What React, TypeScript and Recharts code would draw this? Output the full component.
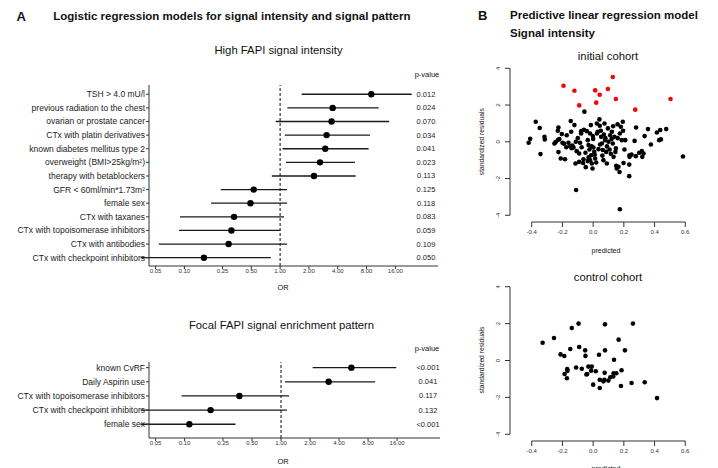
import React from 'react';
import { ScatterChart, Scatter, XAxis, YAxis, ErrorBar, ReferenceLine } from 'recharts';

const FONT = '"Liberation Sans", Arial, Helvetica, sans-serif';

// ---------- A: High FAPI signal intensity ----------
const highLabels = [
  'TSH > 4.0 mU/l',
  'previous radiation to the chest',
  'ovarian or prostate cancer',
  'CTx with platin derivatives',
  'known diabetes mellitus type 2',
  'overweight (BMI>25kg/m²)',
  'therapy with betablockers',
  'GFR < 60ml/min*1.73m²',
  'female sex',
  'CTx with taxanes',
  'CTx with topoisomerase inhibitors',
  'CTx with antibodies',
  'CTx with checkpoint inhibitors',
];
const highOR = [8.96, 3.54, 3.45, 3.06, 2.96, 2.61, 2.26, 0.53, 0.49, 0.33, 0.31, 0.29, 0.16];
const highLow = [1.68, 1.19, 0.9, 1.12, 1.06, 1.15, 0.82, 0.24, 0.19, 0.09, 0.088, 0.054, 0.035];
const highHigh = [23.7, 10.7, 13.8, 8.7, 8.4, 6.05, 6.15, 1.18, 1.18, 1.1, 1.0, 1.18, 0.8];
const highP = ['0.012', '0.024', '0.070', '0.034', '0.041', '0.023', '0.113', '0.125', '0.118', '0.083', '0.059', '0.109', '0.050'];

// ---------- A: Focal FAPI signal enrichment pattern ----------
const focalLabels = [
  'known CvRF',
  'Daily Aspirin use',
  'CTx with topoisomerase inhibitors',
  'CTx with checkpoint inhibitors',
  'female sex',
];
const focalOR = [5.37, 3.12, 0.37, 0.186, 0.112];
const focalLow = [2.13, 1.1, 0.093, 0.035, 0.035];
const focalHigh = [15.7, 9.47, 1.21, 1.15, 0.337];
const focalP = ['<0.001', '0.041', '0.117', '0.132', '<0.001'];

const orTicks = [0.05, 0.1, 0.25, 0.5, 1, 2, 4, 8, 16];
const orDomain = [0.0427, 44.6];

// ---------- B: initial cohort ----------
const initX = [
  -0.42, -0.41, -0.374, -0.348, -0.343, -0.317, -0.315, -0.252, -0.245, -0.226, -0.23, -0.226, -0.211, -0.183, -0.204,
  -0.22, -0.146, -0.122, -0.172, -0.143, -0.161, -0.15, -0.128, -0.113, -0.107, -0.091, -0.085, -0.115, -0.091, -0.078,
  -0.078, -0.063, -0.048, -0.041, -0.035, -0.03, -0.024, -0.02, -0.013, -0.009, -0.004, -0.015, -0.002, 0.002, 0.007,
  0.013, 0.02, 0.024, 0.03, 0.041, 0.043, 0.052, 0.057, 0.063, 0.067, 0.074, 0.078, 0.085, 0.089, 0.096,
  0.1, 0.107, 0.111, 0.122, 0.128, 0.133, 0.139, 0.148, 0.154, 0.159, 0.165, 0.172, 0.174, 0.18, 0.187,
  0.193, 0.198, 0.204, 0.209, 0.235, 0.237, 0.237, 0.27, 0.278, 0.28, 0.317, 0.32, 0.328, 0.335, 0.357,
  0.376, 0.415, 0.43, 0.437, 0.441, 0.476, 0.585, -0.111, 0.174, 0.235, -0.057, -0.19, -0.175, -0.135, -0.1,
  -0.06, -0.05, -0.035, -0.03, -0.01, 0.0, 0.01, 0.035, 0.045, 0.05, 0.06, 0.07, 0.09, 0.115, 0.12,
  0.13, 0.145, 0.16, 0.195, -0.075, -0.065, -0.14, 0.025, -0.02, 0.08, -0.23, -0.2, 0.25, 0.15, 0.3,
];
const initY = [
  -0.05, 0.16, 1.09, 0.75, -0.67, 0.27, 0.13, -0.09, -0.02, -0.56, 0.6, 0.78, -0.91, -0.95, 0.42,
  0.15, 1.13, 0.91, 0.36, 0.55, -0.05, -0.24, -0.31, 0.0, -0.51, -0.64, -0.05, -1.18, -1.09, 0.58,
  0.45, -0.95, -1.38, 0.58, 0.09, -0.18, -0.42, -1.0, -0.73, -1.18, -1.45, 0.91, 0.31, -0.31, -0.55,
  -0.91, -1.13, 1.0, 0.55, 1.22, 0.87, 0.27, -0.09, -0.45, -1.0, 1.0, 0.09, -0.55, -1.18, 0.73,
  0.0, -0.42, 0.36, 0.55, -0.09, -0.82, 0.27, -0.36, -1.45, 0.95, -1.36, -1.64, 0.45, 0.82, 0.09,
  1.09, -1.15, -0.42, 0.09, -1.24, -0.73, -0.82, 0.05, -0.78, 0.78, -0.51, -0.82, -0.64, 0.31, 0.69,
  -0.15, 0.51, 0.09, 0.64, 0.13, 0.69, -0.8, -2.62, -3.67, -1.87, 1.64, -0.1, -0.3, -0.2, 0.2,
  0.65, -0.6, -1.05, -0.85, -0.25, 0.15, -0.7, -0.4, -0.15, 0.6, -0.75, 0.4, -0.25, -0.65, 0.15,
  0.85, -0.55, 0.2, 0.6, -0.3, -1.15, -0.35, 0.45, 0.45, 0.2, 0.1, -0.05, -0.7, -1.3, -0.6,
];
const initRedX = [-0.193, -0.122, -0.091, 0.013, 0.043, 0.02, 0.096, 0.128, 0.148, 0.274, 0.504];
const initRedY = [3.05, 2.78, 1.98, 2.8, 2.56, 2.13, 2.87, 3.53, 2.33, 1.75, 2.33];

// ---------- B: control cohort ----------
const ctrlX = [
  -0.329, -0.255, -0.139, -0.095, 0.077, 0.259, 0.166, -0.212, -0.188, -0.149, -0.091, -0.052, -0.05, 0.038, 0.077,
  0.207, 0.136, -0.186, -0.169, -0.171, -0.167, -0.111, -0.074, -0.031, -0.009, -0.044, -0.039, -0.013, 0.017, 0.0,
  0.043, 0.043, 0.067, 0.073, 0.075, 0.099, 0.112, 0.131, 0.133, 0.151, 0.185, 0.181, 0.25, 0.336, 0.416,
];
const ctrlY = [
  0.96, 1.22, 1.76, 2.0, 1.96, 2.0, 1.13, 0.33, 0.24, 0.62, 0.73, 0.55, 0.25, 0.31, 0.55,
  0.55, 0.04, -0.73, -0.47, -0.96, -0.56, -0.38, -0.45, -0.33, -0.33, -0.76, -0.73, -0.55, -0.58, -1.31,
  -1.04, -1.49, -1.13, -1.04, -0.67, -1.09, -0.91, -0.87, -0.69, -0.69, -0.53, -1.38, -1.22, -1.18, -2.04,
];

const predTicks = [-0.4, -0.2, 0, 0.2, 0.4, 0.6];
const residTicks = [-4, -2, 0, 2, 4];
const predDomain = [-0.5415, 0.7415];
const residDomain = [-4.365, 4.365];

type ForestProps = {
  labels: string[];
  or: number[];
  lo: number[];
  hi: number[];
  p: string[];
  top: number;
  width: number;
  height: number;
  marginTop: number;
  yDomain: number[];
};

function Forest({ labels, or, lo, hi, p, top, width, height, marginTop, yDomain }: ForestProps) {
  const rows = labels.map((l, i) => ({ y: i, or: or[i], err: [or[i] - lo[i], hi[i] - or[i]] }));
  const idx = rows.map((r) => r.y);
  return (
    <div style={{ position: 'absolute', left: 0, top }}>
      <ScatterChart width={width} height={height} margin={{ top: marginTop, right: 2, bottom: 0, left: 0 }}>
        <XAxis
          type="number"
          dataKey="or"
          scale="log"
          domain={orDomain}
          allowDataOverflow
          ticks={orTicks}
          interval={0}
          tickFormatter={(v: number) => v.toFixed(2)}
          tick={{ fontSize: 6, fill: '#333', fontFamily: FONT }}
          tickSize={3}
          tickMargin={0}
          stroke="#333"
          height={30}
        />
        <YAxis
          yAxisId="l"
          type="number"
          dataKey="y"
          domain={yDomain}
          allowDataOverflow
          reversed
          ticks={idx}
          interval={0}
          tickSize={3}
          tickMargin={1}
          stroke="#333"
          width={149}
          tick={(props: any) => (
            <text
              x={props.x}
              y={props.y}
              textAnchor="end"
              dominantBaseline="central"
              fontSize={8.5}
              fill="#222"
              fontFamily={FONT}
            >
              {labels[props.payload.value]}
            </text>
          )}
        />
        <YAxis
          yAxisId="p"
          orientation="right"
          mirror
          type="number"
          dataKey="y"
          domain={yDomain}
          allowDataOverflow
          reversed
          ticks={idx}
          interval={0}
          width={1}
          axisLine={false}
          tickLine={false}
          tickSize={0}
          tickMargin={0}
          tick={(props: any) => (
            <text
              x={props.x - 12}
              y={props.y}
              textAnchor="middle"
              dominantBaseline="central"
              fontSize={7.5}
              fill="#222"
              fontFamily={FONT}
            >
              {p[props.payload.value]}
            </text>
          )}
        />
        <ReferenceLine yAxisId="l" x={1} stroke="#222" strokeWidth={1.1} strokeDasharray="3 2" />
        <Scatter yAxisId="p" data={rows} isAnimationActive={false} shape={() => <g />} />
        <Scatter
          yAxisId="l"
          data={rows}
          isAnimationActive={false}
          fill="#000"
          shape={(s: any) => <circle cx={s.cx} cy={s.cy} r={3.2} fill="#000" />}
        >
          <ErrorBar dataKey="err" direction="x" width={0} stroke="#1a1a1a" strokeWidth={1.3} isAnimationActive={false} />
        </Scatter>
      </ScatterChart>
    </div>
  );
}

const RotTick = (props: any) => {
  const { x, y, payload } = props;
  return (
    <text x={x} y={y} transform={`rotate(-90 ${x} ${y})`} textAnchor="middle" fontSize={6} fill="#333" fontFamily={FONT}>
      {String(payload.value)}
    </text>
  );
};

type ResidProps = {
  xs: number[];
  ys: number[];
  redX?: number[];
  redY?: number[];
  top: number;
  height: number;
  marginTop: number;
  xAxisHeight: number;
};

function Resid({ xs, ys, redX, redY, top, height, marginTop, xAxisHeight }: ResidProps) {
  const pts = xs.map((x, i) => ({ x, y: ys[i] }));
  const reds = (redX || []).map((x, i) => ({ x, y: (redY || [])[i] }));
  return (
    <div style={{ position: 'absolute', left: 470, top }}>
      <ScatterChart width={237} height={height} margin={{ top: marginTop, right: 0, bottom: 0, left: 0 }}>
        <XAxis
          type="number"
          dataKey="x"
          domain={predDomain}
          allowDataOverflow
          ticks={predTicks}
          interval={0}
          tickFormatter={(v: number) => v.toFixed(1)}
          axisLine={false}
          tickLine={{ stroke: '#333' }}
          tickSize={5}
          tickMargin={3}
          tick={{ fontSize: 6, fill: '#333', fontFamily: FONT }}
          height={xAxisHeight}
        />
        <YAxis
          type="number"
          dataKey="y"
          domain={residDomain}
          allowDataOverflow
          ticks={residTicks}
          interval={0}
          axisLine={false}
          tickLine={{ stroke: '#333' }}
          tickSize={5}
          tickMargin={5}
          tick={<RotTick />}
          width={40}
        />
        <ReferenceLine
          segment={[{ x: predTicks[0], y: residDomain[0] }, { x: predTicks[predTicks.length - 1], y: residDomain[0] }]}
          stroke="#333"
          strokeWidth={1}
          ifOverflow="visible"
        />
        <ReferenceLine
          segment={[{ x: predDomain[0], y: residTicks[0] }, { x: predDomain[0], y: residTicks[residTicks.length - 1] }]}
          stroke="#333"
          strokeWidth={1}
          ifOverflow="visible"
        />
        <Scatter
          data={pts}
          isAnimationActive={false}
          fill="#000"
          shape={(s: any) => <circle cx={s.cx} cy={s.cy} r={2.3} fill="#000" />}
        />
        {reds.length > 0 && (
          <Scatter
            data={reds}
            isAnimationActive={false}
            fill="#ff0000"
            shape={(s: any) => <circle cx={s.cx} cy={s.cy} r={2.3} fill="#ff0000" />}
          />
        )}
      </ScatterChart>
    </div>
  );
}

const T = ({ x, y, size = 11.5, bold = false, anchor = 'middle', rotate = 0, children }: any) => (
  <text
    x={x}
    y={y}
    fontSize={size}
    fontWeight={bold ? 700 : 400}
    textAnchor={anchor}
    dominantBaseline="central"
    transform={rotate ? `rotate(${rotate} ${x} ${y})` : undefined}
    fill="#111"
    fontFamily={FONT}
  >
    {children}
  </text>
);

export default function App() {
  return (
    <div
      style={{
        position: 'absolute',
        left: 0,
        top: 0,
        width: 718,
        height: 468,
        overflow: 'hidden',
        background: '#fff',
        fontFamily: FONT,
      }}
    >
      <Forest
        labels={highLabels}
        or={highOR}
        lo={highLow}
        hi={highHigh}
        p={highP}
        top={0}
        width={440}
        height={296}
        marginTop={85}
        yDomain={[-0.68, 12.61]}
      />
      <Forest
        labels={focalLabels}
        or={focalOR}
        lo={focalLow}
        hi={focalHigh}
        p={focalP}
        top={350}
        width={442}
        height={118}
        marginTop={12}
        yDomain={[-0.4, 4.97]}
      />
      <Resid xs={initX} ys={initY} redX={initRedX} redY={initRedY} top={50} height={212} marginTop={11.6} xAxisHeight={40} />
      <Resid xs={ctrlX} ys={ctrlY} top={270} height={201} marginTop={10} xAxisHeight={30} />
      <svg width={718} height={468} style={{ position: 'absolute', left: 0, top: 0, pointerEvents: 'none' }}>
        <T x={16.5} y={16} size={13} bold anchor="start">A</T>
        <T x={53.3} y={16} size={11.5} bold anchor="start">Logistic regression models for signal intensity and signal pattern</T>
        <T x={478} y={15} size={13} bold anchor="start">B</T>
        <T x={510} y={15} size={11.5} bold anchor="start">Predictive linear regression model</T>
        <T x={510} y={33} size={11.5} bold anchor="start">Signal intensity</T>
        <T x={278.5} y={50} size={11.3}>High FAPI signal intensity</T>
        <T x={427} y={74} size={7.5}>p-value</T>
        <T x={283} y={287} size={7.5}>OR</T>
        <T x={281.5} y={325} size={11.3}>Focal FAPI signal enrichment pattern</T>
        <T x={427} y={348} size={7.5}>p-value</T>
        <T x={283} y={461} size={7.5}>OR</T>
        <T x={608} y={56} size={11.3}>initial cohort</T>
        <T x={481.7} y={141.7} size={6.7} rotate={-90}>standardized residuals</T>
        <T x={606} y={250.7} size={7}>predicted</T>
        <T x={608} y={276.7} size={11.3}>control cohort</T>
        <T x={481.7} y={360} size={6.7} rotate={-90}>standardized residuals</T>
        <T x={606} y={468} size={7}>predicted</T>
      </svg>
    </div>
  );
}
